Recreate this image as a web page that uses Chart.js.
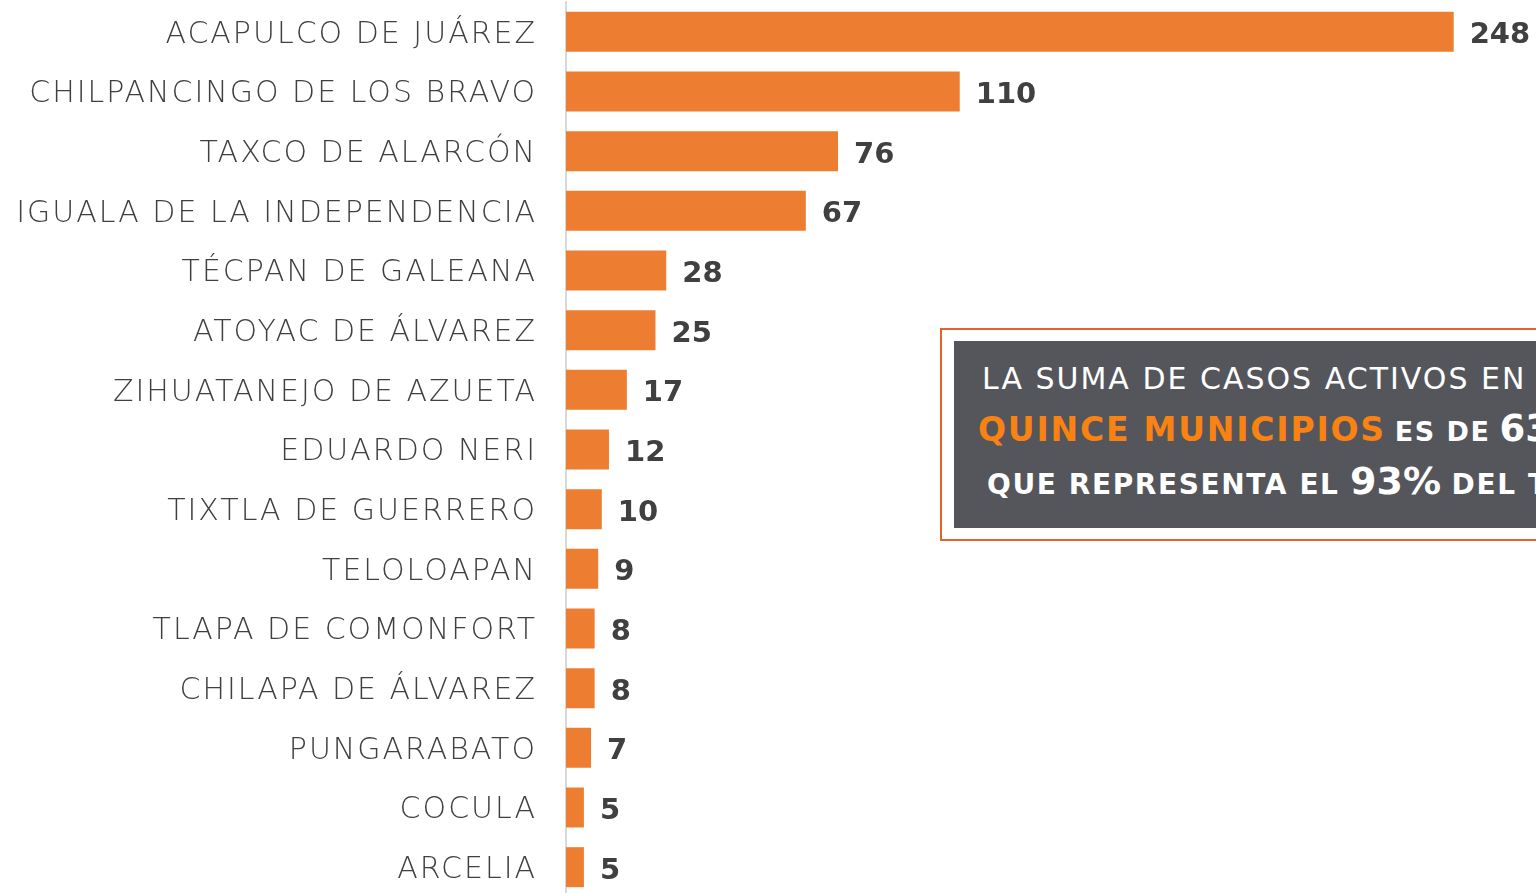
<!DOCTYPE html>
<html>
<head>
<meta charset="utf-8">
<script src="https://cdn.jsdelivr.net/npm/chart.js@4.4.1/dist/chart.umd.min.js"></script>
<style>
  html,body{margin:0;padding:0;background:#fff;overflow:hidden;width:1536px;height:893px;}
  #wrap{position:relative;width:1536px;height:893px;overflow:hidden;}
  canvas{position:absolute;left:0;top:0;}
  #box{position:absolute;left:940px;top:328px;width:700px;height:209px;border:2px solid #e0642c;background:#fff;}
  #inner{position:absolute;left:12px;top:11px;right:0;height:187px;background:#55565b;font-family:"DejaVu Sans",sans-serif;color:#fff;white-space:nowrap;}
  .ln{position:absolute;left:0;}
  .or{color:#f98212;font-weight:bold;}
  .sb{font-weight:bold;}
</style>
</head>
<body>
<div id="wrap">
<canvas id="c" width="1536" height="897"></canvas>
<div id="box"><div id="inner">
  <div class="ln" style="left:28px;top:20px;font-size:30px;letter-spacing:2px;">LA SUMA DE CASOS ACTIVOS EN</div>
  <div class="ln" style="left:24px;top:66px;font-size:28px;"><span class="or" style="font-size:33px;letter-spacing:1.8px;">QUINCE MUNICIPIOS</span> <span class="sb" style="font-size:27px;letter-spacing:1.5px;">ES DE</span> <span class="sb" style="font-size:37px;">635</span></div>
  <div class="ln" style="left:33px;top:118px;font-size:28px;letter-spacing:1.6px;"><span class="sb">QUE REPRESENTA EL</span> <span class="sb" style="font-size:38px;letter-spacing:0;">93%</span> <span class="sb">DEL TOTAL</span></div>
</div></div>
</div>
<script>
const categories = ["ACAPULCO DE JUÁREZ","CHILPANCINGO DE LOS BRAVO","TAXCO DE ALARCÓN","IGUALA DE LA INDEPENDENCIA","TÉCPAN DE GALEANA","ATOYAC DE ÁLVAREZ","ZIHUATANEJO DE AZUETA","EDUARDO NERI","TIXTLA DE GUERRERO","TELOLOAPAN","TLAPA DE COMONFORT","CHILAPA DE ÁLVAREZ","PUNGARABATO","COCULA","ARCELIA"];
const activeCases = [248,110,76,67,28,25,17,12,10,9,8,8,7,5,5];

const spacing = {
  id:'spacing',
  beforeInit(chart){ chart.ctx.letterSpacing = '2px'; },
  beforeDraw(chart){ chart.ctx.letterSpacing = '2px'; }
};

const valueLabels = {
  id:'valueLabels',
  afterDatasetsDraw(chart){
    const ctx = chart.ctx;
    const meta = chart.getDatasetMeta(0);
    ctx.save();
    ctx.letterSpacing = '0px';
    ctx.font = 'bold 29px "DejaVu Sans", sans-serif';
    ctx.fillStyle = '#404040';
    ctx.textAlign = 'left';
    ctx.textBaseline = 'middle';
    meta.data.forEach((bar,i)=>{
      ctx.fillText(String(activeCases[i]), bar.x + 16, bar.y + 4);
    });
    ctx.restore();
  }
};

new Chart(document.getElementById('c'), {
  type:'bar',
  data:{labels:categories,datasets:[{data:activeCases,backgroundColor:'#ed7d31',borderWidth:0,categoryPercentage:1,barPercentage:0.67}]},
  options:{
    indexAxis:'y',
    responsive:false,
    animation:false,
    layout:{padding:{top:2,right:0,bottom:0,left:0}},
    plugins:{legend:{display:false},tooltip:{enabled:false}},
    scales:{
      x:{display:false,min:0,max:271},
      y:{
        afterFit(s){ s.width = 566; s.paddingTop = 0; s.paddingBottom = 0; },
        grid:{display:false,drawTicks:false},
        border:{display:true,color:'#d9d9d9',width:2},
        ticks:{color:'#404040',padding:29,labelOffset:3,font:{family:'"DejaVu Sans", sans-serif',size:30,weight:'300'}}
      }
    }
  },
  plugins:[spacing, valueLabels]
});
</script>
</body>
</html>
